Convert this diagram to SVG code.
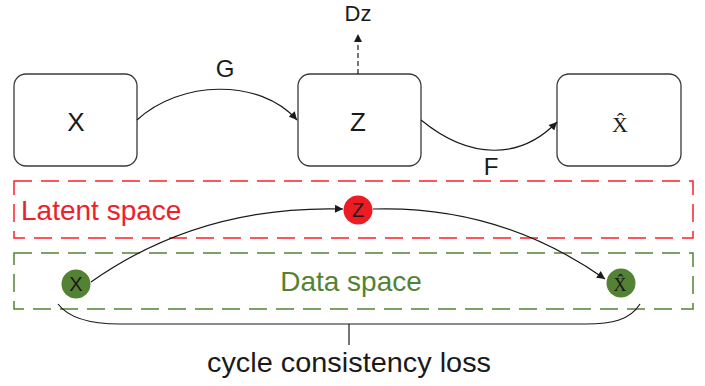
<svg xmlns="http://www.w3.org/2000/svg" width="705" height="386" viewBox="0 0 705 386">
  <style>
    .box { fill: #ffffff; stroke: #3a3a3a; stroke-width: 1.3; }
    .lbl { font-family: "Liberation Sans", Arial, sans-serif; fill: #1a1a1a; text-anchor: middle; }
    .serif { font-family: "Liberation Serif", "Times New Roman", serif; fill: #1a1a1a; text-anchor: middle; }
    .conn { fill: none; stroke: #1a1a1a; stroke-width: 1.2; }
    .region { fill: none; stroke-width: 1.5; stroke-dasharray: 18 9; }
  </style>
  <defs>
    <marker id="arrow" viewBox="0 0 10 10" refX="10" refY="5" markerWidth="9" markerHeight="8" markerUnits="userSpaceOnUse" orient="auto">
      <path d="M0,0 L10,5 L0,10 Z" fill="#1a1a1a"/>
    </marker>
  </defs>
  <rect width="705" height="386" fill="#ffffff"/>

  <g id="latent-space">
    <rect class="region" x="14" y="181" width="679" height="57" stroke="#ff1f2a"/>
    <text x="21" y="220" font-family="Liberation Sans, Arial, sans-serif" font-size="28" fill="#f0202a">Latent space</text>
  </g>
  <g id="data-space">
    <rect class="region" x="14" y="253" width="679" height="56" stroke="#548235"/>
    <text x="351" y="291" font-family="Liberation Sans, Arial, sans-serif" font-size="28" fill="#548235" text-anchor="middle">Data space</text>
  </g>

  <g id="node-x">
    <rect class="box" x="14" y="74" width="123" height="92" rx="12"/>
    <text class="lbl" x="76" y="131" font-size="26">X</text>
  </g>
  <g id="node-z">
    <rect class="box" x="298" y="74" width="123" height="92" rx="12"/>
    <text class="lbl" x="358" y="131" font-size="26">Z</text>
  </g>
  <g id="node-xhat">
    <rect class="box" x="557" y="74" width="124" height="92" rx="12"/>
    <text class="serif" x="620" y="132" font-size="22">X̂</text>
  </g>
  <g id="node-dz">
    <text class="lbl" x="358" y="21" font-size="22">Dz</text>
  </g>

  <g id="circle-x">
    <circle cx="76" cy="284" r="14.5" fill="#548235"/>
    <text class="lbl" x="76" y="291" font-size="20">X</text>
  </g>
  <g id="circle-z">
    <circle cx="358" cy="210" r="14.5" fill="#ed1c24"/>
    <text class="lbl" x="358" y="217" font-size="20">Z</text>
  </g>
  <g id="circle-xhat">
    <circle cx="621" cy="283" r="14.5" fill="#548235"/>
    <text class="serif" x="620" y="291" font-size="18">X̂</text>
  </g>

  <g id="connectors">
    <path class="conn" d="M137,120 C180,80 260,78 297,120" marker-end="url(#arrow)"/>
    <path class="conn" d="M421,120 C470,160 520,160 557,122" marker-end="url(#arrow)"/>
    <path class="conn" d="M358,74 V34" stroke-dasharray="5 3" marker-end="url(#arrow)"/>
    <path class="conn" d="M91,282 Q200,205 343,209" marker-end="url(#arrow)"/>
    <path class="conn" d="M373,209 Q500,205 605,279" marker-end="url(#arrow)"/>
    <path class="conn" d="M58,304 C70,320 95,324 120,324 H586 C612,324 630,320 640,304 M349,324 V345"/>
  </g>

  <g id="labels">
    <text class="lbl" x="225" y="77" font-size="24">G</text>
    <text class="lbl" x="491" y="175" font-size="24">F</text>
    <text class="lbl" x="349" y="372" font-size="28" textLength="284" lengthAdjust="spacingAndGlyphs">cycle consistency loss</text>
  </g>
</svg>
